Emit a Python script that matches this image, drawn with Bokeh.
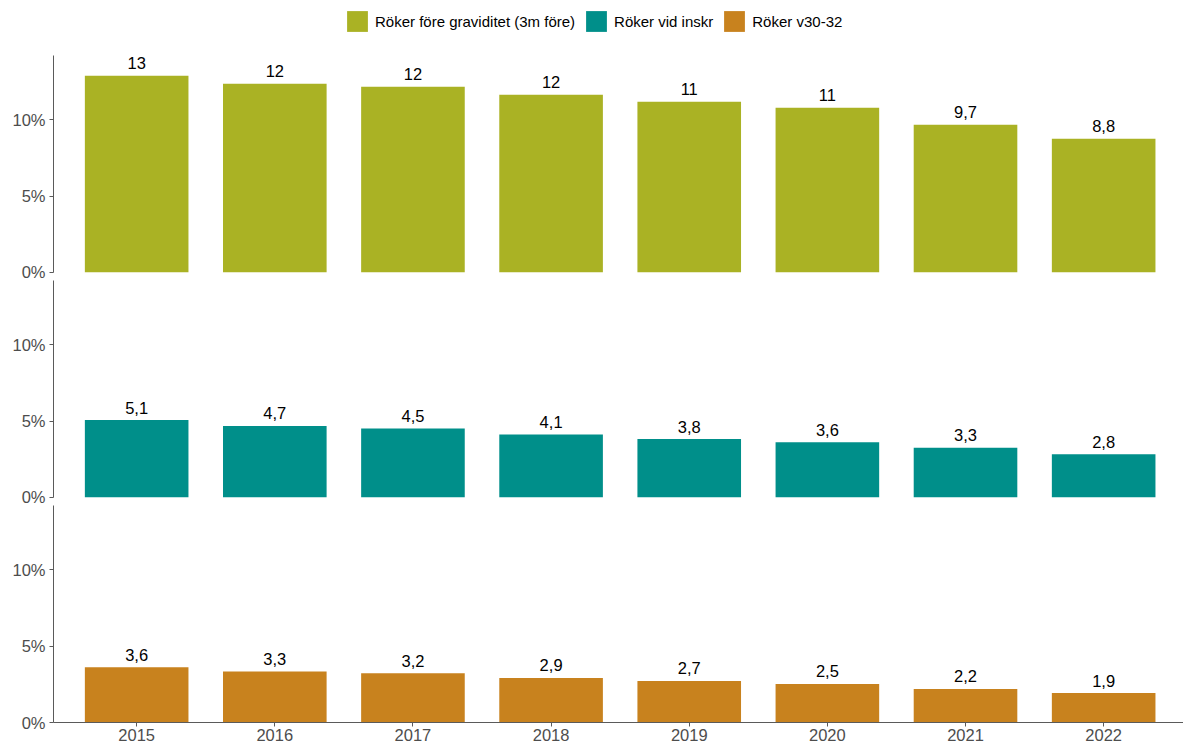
from bokeh.plotting import figure
from bokeh.layouts import column
from bokeh.models import Range1d, FixedTicker, ColumnDataSource, Legend, LegendItem
from bokeh.core.properties import value
from bokeh.embed import file_html
from bokeh.resources import INLINE

years = [2015, 2016, 2017, 2018, 2019, 2020, 2021, 2022]
series_names = ["Röker före graviditet (3m före)", "Röker vid inskr", "Röker v30-32"]
smoke_before = [12.87, 12.35, 12.16, 11.63, 11.18, 10.78, 9.67, 8.76]
smoke_enroll = [5.07, 4.68, 4.52, 4.13, 3.82, 3.62, 3.26, 2.83]
smoke_w30 = [3.62, 3.34, 3.22, 2.92, 2.72, 2.52, 2.20, 1.93]
colors = ["#AAB224", "#008F8A", "#C8821E"]
y_ticks = [0, 5, 10]
y_tick_labels = ["0%", "5%", "10%"]

FONT = "Liberation Sans"
FONT_V = value(FONT)
AXIS_COL = "#5A5A5A"
TICK_LABEL_COL = "#4D4D4D"
W = 1183
LEFT = 53
FRAME_H = 217
GAP = 8
X0, X1 = 2014.398, 2022.578
Y1 = 14.2


def fmt(v):
    return f"{v:.2g}".replace(".", ",")


def panel(values, color, bottom_axis):
    bottom = 25 if bottom_axis else GAP
    p = figure(width=W, height=FRAME_H + bottom, output_backend="svg", toolbar_location=None,
               x_range=Range1d(X0, X1), y_range=Range1d(0, Y1),
               x_axis_location="below" if bottom_axis else None,
               min_border_left=LEFT, min_border_right=0,
               min_border_top=0, min_border_bottom=bottom,
               outline_line_color=None, background_fill_color="white",
               border_fill_color="white")
    p.grid.visible = False
    src = ColumnDataSource(dict(x=years, top=values, label=[fmt(v) for v in values]))
    p.vbar(x="x", top="top", width=0.75, bottom=0, source=src,
           fill_color=color, line_color=None)
    p.text(x="x", y="top", text="label", source=src, text_align="center",
           text_baseline="alphabetic", y_offset=-12.5, text_font=FONT_V,
           text_font_size="16.5px", text_color="black")
    ya = p.yaxis[0]
    ya.ticker = FixedTicker(ticks=y_ticks)
    ya.major_label_overrides = {t: l for t, l in zip(y_ticks, y_tick_labels)}
    ya.minor_tick_line_color = None
    ya.major_tick_in = 0
    ya.major_tick_out = 4
    ya.axis_line_color = AXIS_COL
    ya.major_tick_line_color = AXIS_COL
    ya.major_label_text_font = FONT
    ya.major_label_text_font_size = "16.5px"
    ya.major_label_text_color = TICK_LABEL_COL
    ya.major_label_standoff = 4
    if bottom_axis:
        xa = p.xaxis[0]
        xa.ticker = FixedTicker(ticks=years)
        xa.major_label_overrides = {y: str(y) for y in years}
        xa.minor_tick_line_color = None
        xa.major_tick_in = 0
        xa.major_tick_out = 4
        xa.axis_line_color = AXIS_COL
        xa.major_tick_line_color = AXIS_COL
        xa.major_label_text_font = FONT
        xa.major_label_text_font_size = "16.5px"
        xa.major_label_text_color = TICK_LABEL_COL
        xa.major_label_standoff = 2
    return p


# legend strip
lg = figure(width=W, height=55, output_backend="svg", toolbar_location=None,
            x_range=Range1d(0, 1), y_range=Range1d(0, 1),
            x_axis_location=None, y_axis_location=None,
            min_border=0, outline_line_color=None)
lg.grid.visible = False
items = []
for name, col in zip(series_names, colors):
    r = lg.vbar(x=[5], top=[1], width=0.5, fill_color=col, line_color=None)
    items.append(LegendItem(label=name, renderers=[r]))
legend = Legend(items=items, orientation="horizontal", location=(291, 21),
                glyph_width=26, glyph_height=26, label_standoff=5, spacing=8,
                padding=0, margin=0, border_line_color=None,
                background_fill_alpha=0, label_text_font=FONT,
                label_text_font_size="15px", label_text_color="black")
lg.add_layout(legend, "center")

p1 = panel(smoke_before, colors[0], False)
p2 = panel(smoke_enroll, colors[1], False)
p3 = panel(smoke_w30, colors[2], True)

layout = column(lg, p1, p2, p3, spacing=0)
open("out.html", "w").write(file_html(layout, INLINE))
